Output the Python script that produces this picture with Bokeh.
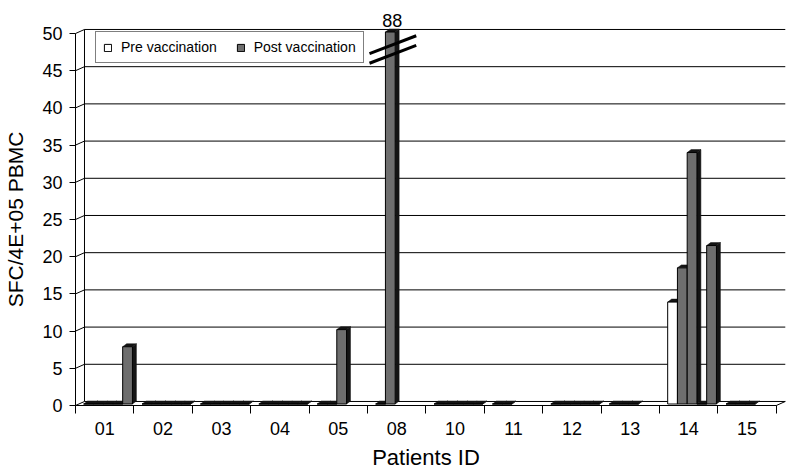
import math
from bokeh.plotting import figure
from bokeh.models import Range1d, FixedTicker, Legend, LegendItem, ColumnDataSource
from bokeh.embed import file_html
from bokeh.resources import INLINE
from bokeh.core.properties import value

# ---------------- data ----------------
patients = ["01", "02", "03", "04", "05", "08", "10", "11", "12", "13", "14", "15"]
pre_vacc = [0, 0, 0, 0, 0, 0, 0, 0, 0, 0, 13.7, 0]
post_1 = [0, 0, 0, 0, 0, 88, 0, 0, 0, 0, 18.3, 0]
post_2 = [0, 0, 0, 0, 10, None, 0, None, 0, 0, 33.8, 0]
post_3 = [0, 0, 0, 0, None, None, 0, None, 0, None, 0, None]
post_4 = [7.7, 0, 0, 0, None, None, 0, None, 0, None, 21.3, None]
y_ticks = [0, 5, 10, 15, 20, 25, 30, 35, 40, 45, 50]
y_max = 50
series_labels = ["Pre vaccination", "Post vaccination"]
x_title = "Patients ID"
y_title = "SFC/4E+05 PBMC"

FONT = "Liberation Sans"
GREY = "#6e6e6e"
DARK = "#141414"

n_cat = len(patients)
# 3D geometry (in data units)
dxw, dyw = 0.154, 0.54      # wall depth
dxb, dyb = 0.068, 0.40      # bar depth
base = 0.2
slot_off, slot_w = 0.14, 0.167

W, H = 787, 469
px_x = 58.4   # pixels per category
px_y = 7.44   # pixels per unit
x0_px, y0_px = 75, 405   # data origin in figure pixels
p = figure(width=W, height=H, output_backend="svg", toolbar_location=None,
           x_range=Range1d(-x0_px / px_x, (W - x0_px) / px_x),
           y_range=Range1d(-(H - y0_px) / px_y, y0_px / px_y),
           min_border_left=0, min_border_right=0, min_border_top=0, min_border_bottom=0)
p.xgrid.visible = False
p.ygrid.visible = False
p.outline_line_color = None
p.background_fill_color = "white"

# ---- walls ----
gx0, gx1, gy0, gy1 = [], [], [], []
for t in y_ticks:
    gx0.append(dxw); gx1.append(n_cat + dxw); gy0.append(t + dyw); gy1.append(t + dyw)
    gx0.append(0); gx1.append(dxw); gy0.append(t); gy1.append(t + dyw)
gx0.append(dxw); gx1.append(dxw); gy0.append(dyw); gy1.append(y_max + dyw)
gx0.append(n_cat); gx1.append(n_cat + dxw); gy0.append(0); gy1.append(dyw)
p.segment(x0=gx0, y0=gy0, x1=gx1, y1=gy1, line_color="black", line_width=1)

# ---- bars ----
series = [pre_vacc, post_1, post_2, post_3, post_4]
front = {0: dict(left=[], right=[], bottom=[], top=[]), 1: dict(left=[], right=[], bottom=[], top=[])}
side_xs, side_ys, top_xs, top_ys = [], [], [], []
broken = []
for i in range(n_cat):
    for k, s in enumerate(series):
        v = s[i]
        if v is None:
            continue
        x0 = i + slot_off + k * slot_w
        x1 = x0 + slot_w
        h = min(v, y_max)
        b, t = base, base + h
        g = 0 if k == 0 else 1
        front[g]["left"].append(x0); front[g]["right"].append(x1)
        front[g]["bottom"].append(b); front[g]["top"].append(t)
        side_xs.append([x1, x1 + dxb, x1 + dxb, x1]); side_ys.append([b, b + dyb, t + dyb, t])
        top_xs.append([x0, x0 + dxb, x1 + dxb, x1]); top_ys.append([t, t + dyb, t + dyb, t])
        if v > y_max:
            broken.append(((x0 + x1 + dxb) / 2, v))

p.patches(xs=side_xs, ys=side_ys, fill_color=DARK, line_color=DARK, line_width=0.5)
p.patches(xs=top_xs, ys=top_ys, fill_color=DARK, line_color=DARK, line_width=0.5)
r_pre = p.quad(source=ColumnDataSource(front[0]), left="left", right="right", bottom="bottom", top="top",
               fill_color="white", line_color="black", line_width=1)
r_post = p.quad(source=ColumnDataSource(front[1]), left="left", right="right", bottom="bottom", top="top",
                fill_color=GREY, line_color="black", line_width=1)

# ---- axis break marks and true value label ----
for cx, v in broken:
    p.segment(x0=[cx - 0.39, cx - 0.39], y0=[y_max - 2.7, y_max - 4.0],
              x1=[cx + 0.41, cx + 0.41], y1=[y_max - 0.3, y_max - 1.6],
              line_color="black", line_width=3)
    p.text(x=[cx], y=[y_max + 1.75], text=[f"{v:g}"], text_font=value(FONT), text_font_size="18px",
           text_align="center", text_baseline="alphabetic", text_color="black")

# ---- axes ----
yax = p.yaxis[0]
yax.fixed_location = 0
yax.ticker = FixedTicker(ticks=y_ticks)
yax.bounds = (0, y_max)
yax.major_tick_out = 6
yax.major_tick_in = 0
yax.minor_tick_out = 0
yax.minor_tick_in = 0
yax.major_label_standoff = 7
yax.major_label_text_font = FONT
yax.major_label_text_font_size = "18px"
yax.major_label_text_color = "black"
yax.axis_label = y_title
yax.axis_label_text_font = FONT
yax.axis_label_text_font_size = "21px"
yax.axis_label_text_font_style = "normal"
yax.axis_label_text_color = "black"
yax.axis_label_standoff = 12
yax.axis_line_color = "black"
yax.major_tick_line_color = "black"

xax = p.xaxis[0]
xax.fixed_location = 0
centers = [i + 0.5 for i in range(n_cat)]
xax.ticker = FixedTicker(ticks=centers, minor_ticks=list(range(n_cat + 1)))
xax.major_label_overrides = {c: lab for c, lab in zip(centers, patients)}
xax.bounds = (0, n_cat)
xax.major_tick_out = 8
xax.major_tick_in = 0
xax.major_tick_line_color = None
xax.minor_tick_out = 8
xax.minor_tick_in = 0
xax.minor_tick_line_color = "black"
xax.major_label_standoff = 8
xax.major_label_text_font = FONT
xax.major_label_text_font_size = "18px"
xax.major_label_text_color = "black"
xax.axis_label = x_title
xax.axis_label_text_font = FONT
xax.axis_label_text_font_size = "22px"
xax.axis_label_text_font_style = "normal"
xax.axis_label_text_color = "black"
xax.axis_label_standoff = 7
xax.axis_line_color = "black"

# ---- legend ----
legend = Legend(items=[LegendItem(label=series_labels[0], renderers=[r_pre]),
                       LegendItem(label=series_labels[1], renderers=[r_post])],
                orientation="horizontal", location=(95, H - 63),
                border_line_color="black", border_line_width=1,
                background_fill_color="white", background_fill_alpha=1.0,
                padding=7, spacing=19, label_standoff=9, glyph_width=9, glyph_height=9,
                label_height=14, margin=0,
                label_text_font=FONT, label_text_font_size="14px", label_text_color="black")
p.add_layout(legend)

open("out.html", "w").write(file_html(p, INLINE))
